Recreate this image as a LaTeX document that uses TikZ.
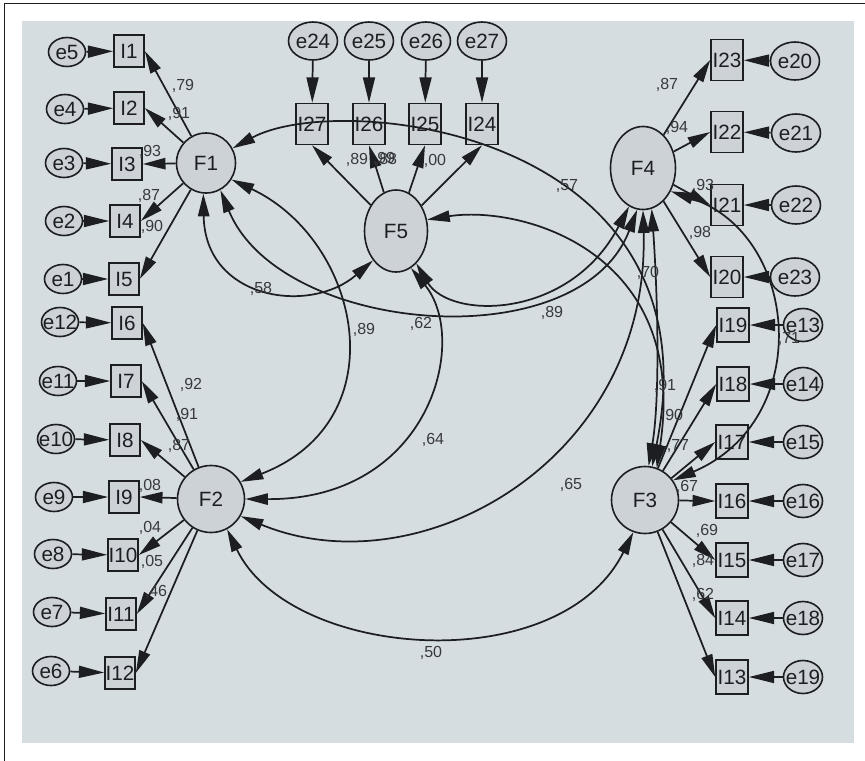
\documentclass[tikz,border=0pt]{standalone}
\usepackage{fontspec}
\setmainfont{Liberation Sans}
\usetikzlibrary{arrows.meta,shapes.geometric}
\definecolor{paper}{RGB}{214,221,225}
\definecolor{nodefill}{RGB}{204,210,214}
\definecolor{ink}{RGB}{28,30,34}
\definecolor{coefink}{RGB}{55,57,61}
\newcommand\semNodeFont{\fontsize{15.5}{17}\selectfont}
\newcommand\semCoefFont{\fontsize{12}{13}\selectfont}
\newcommand\zw[1]{\makebox[0pt]{#1}}
\tikzset{
  base/.style={draw=ink, line width=1.2pt, fill=nodefill, inner sep=0pt, text=ink, font=\semNodeFont},
  factor/.style={base, ellipse},
  errL/.style={base, ellipse, minimum width=37*0.75pt, minimum height=29*0.75pt},
  errT/.style={base, ellipse, minimum width=49*0.75pt, minimum height=38*0.75pt},
  errR/.style={base, ellipse, minimum width=39*0.75pt, minimum height=33*0.75pt},
  boxL/.style={base, rectangle, minimum width=30*0.75pt, minimum height=32*0.75pt},
  boxT/.style={base, rectangle, minimum width=32*0.75pt, minimum height=41*0.75pt},
  boxR/.style={base, rectangle, minimum width=32*0.75pt, minimum height=34*0.75pt},
  coef/.style={inner sep=0pt, text=coefink, font=\semCoefFont},
  load/.style={draw=ink, line width=1.3pt, -{Triangle[length=17pt,width=8.5pt]}},
  erra/.style={draw=ink, line width=1.3pt, -{Triangle[length=19pt,width=9pt]}},
  cov/.style={draw=ink, line width=1.3pt, {Triangle[length=17pt,width=8.5pt]}-{Triangle[length=17pt,width=8.5pt]}},
}
\begin{document}
\begin{tikzpicture}[x=0.75pt,y=-0.75pt]
\useasboundingbox (0,0) rectangle (865,761);
\fill[white] (0,0) rectangle (865,761);
\fill[paper] (22,21) rectangle (854,743);
\draw[ink, line width=1.3pt] (4.5,761) -- (4.5,3.5) -- (865,3.5);

% ---------- latent factors ----------
\node[factor, minimum width=59*0.75pt, minimum height=60*0.75pt] (F1) at (206,163) {\zw{F1}};
\node[factor, minimum width=67*0.75pt, minimum height=67*0.75pt] (F2) at (211,499) {\zw{F2}};
\node[factor, minimum width=67*0.75pt, minimum height=67*0.75pt] (F3) at (645,500) {\zw{F3}};
\node[factor, minimum width=65*0.75pt, minimum height=83*0.75pt] (F4) at (643,168) {\zw{F4}};
\node[factor, minimum width=63*0.75pt, minimum height=82*0.75pt] (F5) at (396,231) {\zw{F5}};

% ---------- F1 indicators ----------
\node[errL] (e5) at (67,52) {\zw{e5}};   \node[boxL] (I1) at (129,51) {\zw{I1}};
\node[errL] (e4) at (65,109) {\zw{e4}};  \node[boxL] (I2) at (129,108) {\zw{I2}};
\node[errL] (e3) at (64,163) {\zw{e3}};  \node[boxL] (I3) at (127,164) {\zw{I3}};
\node[errL] (e2) at (64,221) {\zw{e2}};  \node[boxL] (I4) at (125,221) {\zw{I4}};
\node[errL] (e1) at (63,279) {\zw{e1}};  \node[boxL] (I5) at (124,279) {\zw{I5}};

% ---------- F2 indicators ----------
\node[errL] (e12) at (60,322) {\zw{e12}}; \node[boxL] (I6) at (127,323) {\zw{I6}};
\node[errL] (e11) at (58,381) {\zw{e11}}; \node[boxL] (I7) at (126,381) {\zw{I7}};
\node[errL] (e10) at (56,439) {\zw{e10}}; \node[boxL] (I8) at (125,440) {\zw{I8}};
\node[errL] (e9) at (54,497) {\zw{e9}};   \node[boxL] (I9) at (124,497) {\zw{I9}};
\node[errL] (e8) at (53,554) {\zw{e8}};   \node[boxL] (I10) at (123,555) {\zw{I10}};
\node[errL] (e7) at (52,612) {\zw{e7}};   \node[boxL] (I11) at (121,614) {\zw{I11}};
\node[errL] (e6) at (51,671) {\zw{e6}};   \node[boxL] (I12) at (120,673) {\zw{I12}};

% ---------- F5 indicators ----------
\node[errT] (e24) at (313,41) {\zw{e24}}; \node[boxT] (I27) at (312,124) {\zw{I27}};
\node[errT] (e25) at (369,41) {\zw{e25}}; \node[boxT] (I26) at (369,124) {\zw{I26}};
\node[errT] (e26) at (426,41) {\zw{e26}}; \node[boxT] (I25) at (425,124) {\zw{I25}};
\node[errT] (e27) at (482,41) {\zw{e27}}; \node[boxT] (I24) at (482,124) {\zw{I24}};

% ---------- F4 indicators ----------
\node[boxT] (I23) at (727,60) {\zw{I23}};  \node[errT] (e20) at (795,61) {\zw{e20}};
\node[boxT] (I22) at (727,132) {\zw{I22}}; \node[errT] (e21) at (796,133) {\zw{e21}};
\node[boxT] (I21) at (727,205) {\zw{I21}}; \node[errT] (e22) at (796,205) {\zw{e22}};
\node[boxT] (I20) at (727,277) {\zw{I20}}; \node[errT] (e23) at (795,277) {\zw{e23}};

% ---------- F3 indicators ----------
\node[boxR] (I19) at (733,325) {\zw{I19}}; \node[errR] (e13) at (803,325) {\zw{e13}};
\node[boxR] (I18) at (733,384) {\zw{I18}}; \node[errR] (e14) at (803,384) {\zw{e14}};
\node[boxR] (I17) at (732,442) {\zw{I17}}; \node[errR] (e15) at (803,442) {\zw{e15}};
\node[boxR] (I16) at (732,501) {\zw{I16}}; \node[errR] (e16) at (803,501) {\zw{e16}};
\node[boxR] (I15) at (732,560) {\zw{I15}}; \node[errR] (e17) at (803,560) {\zw{e17}};
\node[boxR] (I14) at (732,618) {\zw{I14}}; \node[errR] (e18) at (803,618) {\zw{e18}};
\node[boxR] (I13) at (732,677) {\zw{I13}}; \node[errR] (e19) at (803,677) {\zw{e19}};

% ---------- error terms ----------
\foreach \e/\i in {e5/I1,e4/I2,e3/I3,e2/I4,e1/I5,e12/I6,e11/I7,e10/I8,e9/I9,e8/I10,e7/I11,e6/I12,
  e24/I27,e25/I26,e26/I25,e27/I24,e20/I23,e21/I22,e22/I21,e23/I20,
  e13/I19,e14/I18,e15/I17,e16/I16,e17/I15,e18/I14,e19/I13}
  \draw[erra] (\e) -- (\i);

% ---------- loadings ----------
\foreach \i in {I1,I2,I3,I4,I5} \draw[load] (F1) -- (\i.east);
\foreach \i in {I6,I7,I8,I9,I10,I11,I12} \draw[load] (F2) -- (\i.east);
\foreach \i in {I19,I18,I17,I16,I15,I14,I13} \draw[load] (F3) -- (\i.west);
\foreach \i in {I23,I22,I21,I20} \draw[load] (F4) -- (\i.west);
\foreach \i in {I27,I26,I25,I24} \draw[load] (F5) -- (\i.south);

% ---------- covariances ----------
\draw[cov] (F1.-33) .. controls (360,240) and (400,420) .. (F2.30);
\draw[cov] (F1.-95) .. controls (205,300) and (310,315) .. (F5.232);
\draw[cov] (F1.-62) .. controls (280,335) and (580,360) .. (F4.262);
\draw[cov] (F5.-58) .. controls (450,320) and (570,320) .. (F4.250);
\draw[cov] (F1.29) .. controls (340,90) and (720,130) .. (F3.78);
\draw[cov] (F5.20) .. controls (520,205) and (690,250) .. (F3.70);
\draw[cov] (F4.-78) .. controls (658,300) and (660,400) .. (F3.84);
\draw[cov] (F4.-40) .. controls (800,235) and (815,420) .. (F3.35);
\draw[cov] (F2.-62) .. controls (290,660) and (560,680) .. (F3.-110);
\draw[cov] (F2.0) .. controls (430,500) and (470,340) .. (F5.-68);
\draw[cov] (F2.-30) .. controls (420,590) and (650,460) .. (F4.270);

% ---------- coefficients ----------
\node[coef] (c1) at (183,86) {,79};
\node[coef] (c2) at (179,114) {,91};
\node[coef] (c3) at (150,152) {,93};
\node[coef] (c4) at (149,196) {,87};
\node[coef] (c5) at (152,227) {,90};
\node[coef] (c6) at (191,385) {,92};
\node[coef] (c7) at (187,415) {,91};
\node[coef] (c8) at (179,446) {,87};
\node[coef] (c9) at (150,486) {,08};
\node[coef] (c10) at (150,528) {,04};
\node[coef] (c11) at (152,562) {,05};
\node[coef] (c12) at (156,592) {,46};
\node[coef] (c13) at (357,160) {,89};
\node[coef] (c14) at (384,159) {,99};
\node[coef] (c15) at (386,160) {,88};
\node[coef] (c16) at (435,161) {,00};
\node[coef] (c17) at (667,85) {,87};
\node[coef] (c18) at (677,128) {,94};
\node[coef] (c19) at (703,186) {,93};
\node[coef] (c20) at (700,233) {,98};
\node[coef] (c21) at (665,386) {,91};
\node[coef] (c22) at (672,416) {,90};
\node[coef] (c23) at (678,446) {,77};
\node[coef] (c24) at (687,487) {,67};
\node[coef] (c25) at (707,531) {,69};
\node[coef] (c26) at (703,561) {,84};
\node[coef] (c27) at (703,595) {,62};
\node[coef] (c28) at (261,289) {,58};
\node[coef] (c29) at (364,330) {,89};
\node[coef] (c30) at (421,324) {,62};
\node[coef] (c31) at (552,313) {,89};
\node[coef] (c32) at (567,186) {,57};
\node[coef] (c33) at (648,273) {,70};
\node[coef] (c34) at (433,440) {,64};
\node[coef] (c35) at (571,485) {,65};
\node[coef] (c36) at (431,653) {,50};
\node[coef] (c37) at (789,339) {,71};
\end{tikzpicture}
\end{document}
